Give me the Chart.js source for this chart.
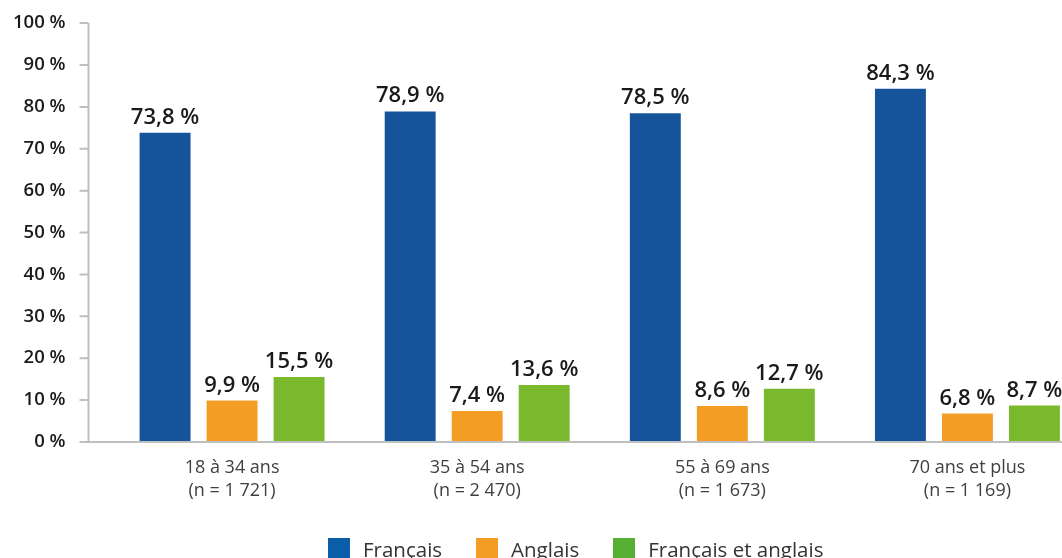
<!DOCTYPE html>
<html>
<head>
<meta charset="utf-8">
<script src="https://cdn.jsdelivr.net/npm/chart.js@4"></script>
<style>
  html, body { margin: 0; padding: 0; background: #fff; overflow: hidden; width: 1062px; height: 558px; }
  #wrap { position: relative; width: 1062px; height: 558px; overflow: hidden; }
  #chart { position: absolute; left: 0; top: -32px; }
  #legend { position: absolute; left: 328px; top: 535px; display: flex; align-items: center;
    font-family: "Open Sans", sans-serif; font-size: 20.5px; color: #333; white-space: nowrap; }
  #legend .item { display: flex; align-items: center; margin-right: 34px; }
  #legend .box { width: 22px; height: 22px; margin-right: 13px; }
</style>
</head>
<body>
<div id="wrap">
  <canvas id="chart" width="1090" height="590"></canvas>
  <div id="legend"></div>
</div>
<script>
// data
const ageGroups = [
  ["18 à 34 ans", "(n = 1 721)"],
  ["35 à 54 ans", "(n = 2 470)"],
  ["55 à 69 ans", "(n = 1 673)"],
  ["70 ans et plus", "(n = 1 169)"]
];
const seriesNames = ["Français", "Anglais", "Français et anglais"];
const francais = [73.8, 78.9, 78.5, 84.3];
const anglais = [9.9, 7.4, 8.6, 6.8];
const lesDeux = [15.5, 13.6, 12.7, 8.7];
const yTicks = [0, 10, 20, 30, 40, 50, 60, 70, 80, 90, 100];

const barColors = ["#15549b", "#f49d24", "#7ab92d"];
const legendColors = ["#0a5ea8", "#f49d24", "#55b033"];

const AXIS_X = 88.5; // y axis line sits left of the plot area

function fmt(v) {
  return v.toFixed(1).replace(".", ",") + " %";
}

// axis lines + tick marks
const axisPlugin = {
  id: "axisLines",
  afterDraw(chart) {
    const ctx = chart.ctx;
    const y = chart.scales.y;
    const area = chart.chartArea;
    ctx.save();
    ctx.strokeStyle = "#bfbfbf";
    ctx.lineWidth = 2;
    ctx.beginPath();
    ctx.moveTo(AXIS_X, y.getPixelForValue(100));
    ctx.lineTo(AXIS_X, y.getPixelForValue(0));
    yTicks.forEach(t => {
      const py = y.getPixelForValue(t);
      ctx.moveTo(AXIS_X - 9, py);
      ctx.lineTo(AXIS_X, py);
    });
    ctx.moveTo(AXIS_X, y.getPixelForValue(0));
    ctx.lineTo(area.right, y.getPixelForValue(0));
    ctx.stroke();
    ctx.restore();
  }
};

// value labels above bars
const valueLabels = {
  id: "valueLabels",
  afterDatasetsDraw(chart) {
    const ctx = chart.ctx;
    ctx.save();
    ctx.font = "600 22px 'Open Sans'";
    ctx.fillStyle = "#1a1a1a";
    ctx.textAlign = "center";
    ctx.textBaseline = "alphabetic";
    chart.data.datasets.forEach((ds, i) => {
      chart.getDatasetMeta(i).data.forEach((bar, j) => {
        ctx.fillText(fmt(ds.data[j]), bar.x, bar.y - 9);
      });
    });
    ctx.restore();
  }
};

new Chart(document.getElementById("chart"), {
  type: "bar",
  data: {
    labels: ageGroups,
    datasets: [
      { label: seriesNames[0], data: francais, backgroundColor: barColors[0] },
      { label: seriesNames[1], data: anglais, backgroundColor: barColors[1] },
      { label: seriesNames[2], data: lesDeux, backgroundColor: barColors[2] }
    ]
  },
  options: {
    responsive: false,
    animation: false,
    layout: { padding: { top: 0, right: 0, left: 0, bottom: 0 } },
    categoryPercentage: 0.82,
    barPercentage: 0.76,
    plugins: {
      legend: { display: false },
      tooltip: { enabled: false }
    },
    scales: {
      x: {
        grid: { display: false, drawTicks: false },
        border: { display: false },
        ticks: {
          color: "#404040",
          font: { family: "Open Sans", size: 18, lineHeight: 1.28 },
          padding: 14,
          maxRotation: 0
        },
        afterFit(scale) { scale.height = 116; }
      },
      y: {
        min: 0,
        max: 100,
        afterBuildTicks(scale) { scale.ticks = yTicks.map(v => ({ value: v })); },
        grid: { display: false, drawTicks: false },
        border: { display: false },
        ticks: {
          color: "#1a1a1a",
          font: { family: "Open Sans", size: 18.5, weight: "600" },
          padding: 44,
          callback: v => v + " %"
        },
        afterFit(scale) { scale.width = 109.5; }
      }
    }
  },
  plugins: [axisPlugin, valueLabels]
});

// legend
const legend = document.getElementById("legend");
seriesNames.forEach((name, i) => {
  const item = document.createElement("div");
  item.className = "item";
  item.innerHTML = `<span class="box" style="background:${legendColors[i]}"></span><span>${name}</span>`;
  legend.appendChild(item);
});
</script>
</body>
</html>
